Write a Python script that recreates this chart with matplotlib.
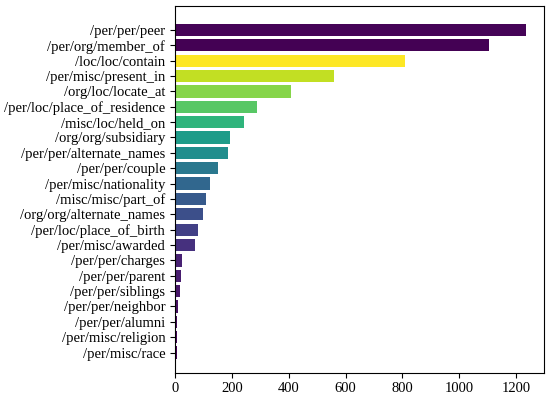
import numpy as np
import matplotlib
matplotlib.use("Agg")
import matplotlib.pyplot as plt

# relation types, top to bottom as shown
relations = [
    "/per/per/peer", "/per/org/member_of", "/loc/loc/contain", "/per/misc/present_in",
    "/org/loc/locate_at", "/per/loc/place_of_residence", "/misc/loc/held_on",
    "/org/org/subsidiary", "/per/per/alternate_names", "/per/per/couple",
    "/per/misc/nationality", "/misc/misc/part_of", "/org/org/alternate_names",
    "/per/loc/place_of_birth", "/per/misc/awarded", "/per/per/charges",
    "/per/per/parent", "/per/per/siblings", "/per/per/neighbor", "/per/per/alumni",
    "/per/misc/religion", "/per/misc/race",
]
counts = [1236, 1103, 810, 561, 410, 289, 242, 193, 187, 153, 125, 109, 98, 82, 69,
          26, 22, 18, 12, 8, 8, 7]

# position of each bar's colour on the viridis map
cmap_pos = [0.01, 0.0, 1.0, 0.91, 0.82, 0.74, 0.65, 0.55, 0.49, 0.40, 0.33, 0.28,
            0.24, 0.19, 0.14, 0.09, 0.08, 0.06, 0.04, 0.025, 0.012, 0.0]

plt.rcParams["font.family"] = ["Liberation Serif", "DejaVu Serif"]
plt.rcParams["font.size"] = 10.5

fig = plt.figure(figsize=(5.5, 3.98), dpi=100)
ax = fig.add_axes([0.318, 0.064, 0.671, 0.921])

# plot bottom-up so the first relation ends up on top
labels = relations[::-1]
vals = counts[::-1]
colors = plt.cm.viridis(np.array(cmap_pos[::-1]))
ypos = np.arange(len(labels))
ax.barh(ypos, vals, height=0.8, color=colors)

ax.set_yticks(ypos)
ax.set_yticklabels(labels)
ax.set_ylim(-1.3, len(labels) - 1 + 1.56)
ax.set_xticks([0, 200, 400, 600, 800, 1000, 1200])
ax.tick_params(labelsize=10.5)

fig.savefig("out.png", dpi=100)
